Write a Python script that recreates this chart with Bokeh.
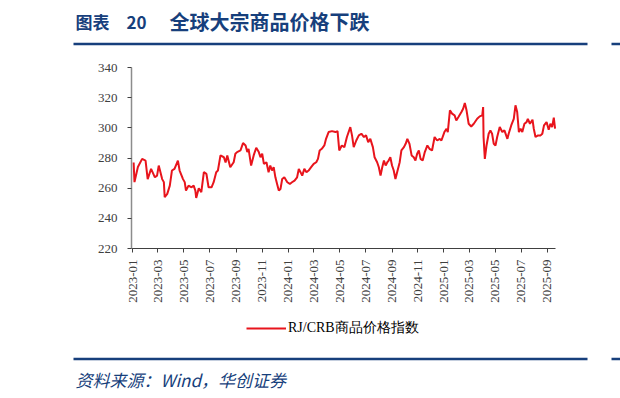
import pandas as pd
from math import pi
from bokeh.plotting import figure
from bokeh.models import Range1d, FixedTicker, Legend, LegendItem, ColumnDataSource, DatetimeTickFormatter
from bokeh.core.properties import value
from bokeh.embed import file_html
from bokeh.resources import INLINE

TITLE_NO = "图表　20"
TITLE = "全球大宗商品价格下跌"
SOURCE = "资料来源：Wind，华创证券"
SERIES = "RJ/CRB商品价格指数"

dates = [
    "2023-01-03", "2023-01-05", "2023-01-13", "2023-01-23", "2023-01-31", "2023-02-05", "2023-02-13",
    "2023-02-22", "2023-02-27", "2023-03-03", "2023-03-11", "2023-03-15", "2023-03-17", "2023-03-23",
    "2023-03-29", "2023-04-03", "2023-04-09", "2023-04-17", "2023-04-21", "2023-04-29", "2023-05-03",
    "2023-05-06", "2023-05-12", "2023-05-19", "2023-05-24", "2023-05-28", "2023-05-30", "2023-06-05",
    "2023-06-11", "2023-06-17", "2023-06-23", "2023-06-28", "2023-07-05", "2023-07-10", "2023-07-16",
    "2023-07-20", "2023-07-26", "2023-08-03", "2023-08-07", "2023-08-11", "2023-08-18", "2023-08-26",
    "2023-08-30", "2023-09-03", "2023-09-11", "2023-09-17", "2023-09-23", "2023-09-27", "2023-09-30",
    "2023-10-06", "2023-10-12", "2023-10-18", "2023-10-24", "2023-10-28", "2023-11-01", "2023-11-05",
    "2023-11-11", "2023-11-16", "2023-11-20", "2023-11-24", "2023-11-28", "2023-12-02", "2023-12-06",
    "2023-12-10", "2023-12-14", "2023-12-18", "2023-12-23", "2023-12-30",
    "2024-01-05", "2024-01-10", "2024-01-16", "2024-01-22", "2024-01-26", "2024-01-30", "2024-02-03",
    "2024-02-08", "2024-02-13", "2024-02-18", "2024-02-24", "2024-03-01", "2024-03-07", "2024-03-11",
    "2024-03-15", "2024-03-20", "2024-03-26", "2024-03-30", "2024-04-05", "2024-04-13", "2024-04-21",
    "2024-04-26", "2024-04-30", "2024-05-06", "2024-05-12", "2024-05-18", "2024-05-26", "2024-05-30",
    "2024-06-03", "2024-06-09", "2024-06-15", "2024-06-21", "2024-06-27", "2024-07-02", "2024-07-07",
    "2024-07-12", "2024-07-18", "2024-07-22", "2024-07-28", "2024-08-01", "2024-08-05", "2024-08-09",
    "2024-08-13", "2024-08-17", "2024-08-21", "2024-08-24", "2024-08-28", "2024-09-01", "2024-09-05",
    "2024-09-09", "2024-09-13", "2024-09-19", "2024-09-23", "2024-09-29", "2024-10-03", "2024-10-07",
    "2024-10-12", "2024-10-17", "2024-10-22", "2024-10-26", "2024-10-30", "2024-11-03", "2024-11-07",
    "2024-11-12", "2024-11-17", "2024-11-23", "2024-11-28", "2024-12-04", "2024-12-10", "2024-12-16",
    "2024-12-22", "2024-12-26",
    "2025-01-02", "2025-01-07", "2025-01-10", "2025-01-15", "2025-01-20", "2025-01-26", "2025-01-30",
    "2025-02-04", "2025-02-11", "2025-02-15", "2025-02-19", "2025-02-23", "2025-02-28", "2025-03-06",
    "2025-03-12", "2025-03-20", "2025-03-26", "2025-04-01", "2025-04-03", "2025-04-04", "2025-04-07",
    "2025-04-11", "2025-04-16", "2025-04-20", "2025-04-24", "2025-04-28", "2025-05-02", "2025-05-06",
    "2025-05-12", "2025-05-18", "2025-05-23", "2025-05-30", "2025-06-02", "2025-06-08", "2025-06-14",
    "2025-06-18", "2025-06-22", "2025-06-26", "2025-06-30", "2025-07-04", "2025-07-09", "2025-07-14",
    "2025-07-17", "2025-07-22", "2025-07-28", "2025-07-31", "2025-08-04", "2025-08-10", "2025-08-16",
    "2025-08-20", "2025-08-24", "2025-08-30", "2025-09-04", "2025-09-08", "2025-09-12", "2025-09-16",
    "2025-09-19",
]

rj_crb = [
    277.0, 264.0, 274.0, 279.4, 278.3, 266.0, 272.8,
    267.2, 268.3, 275.0, 266.0, 264.0, 254.0, 256.2,
    261.7, 271.7, 272.8, 278.3, 271.7, 266.0, 264.0,
    258.4, 261.7, 260.6, 261.7, 258.4, 253.5, 260.0,
    257.3, 270.6, 269.5, 260.6, 260.6, 264.0, 270.6,
    271.7, 281.7, 280.5, 277.0, 281.7, 273.9, 277.2,
    282.8, 283.9, 285.0, 289.9, 288.3, 283.9, 286.1,
    275.0, 281.7, 286.8, 283.9, 280.5, 282.8, 276.1,
    277.2, 270.6, 275.0, 271.7, 273.9, 267.2, 262.8,
    258.4, 259.5, 266.1, 267.2, 263.9,
    262.8, 263.9, 265.0, 267.2, 272.8, 270.6, 268.3,
    272.8, 270.6, 271.7, 273.9, 276.1, 277.2, 279.4,
    285.0, 286.1, 288.3, 292.7, 297.2, 297.8, 297.2,
    297.8, 285.0, 288.3, 287.2, 293.9, 300.5, 295.0,
    287.2, 291.6, 295.0, 296.1, 293.9, 295.0, 290.5,
    292.7, 287.2, 280.5, 277.2, 273.9, 268.3, 273.9,
    278.3, 275.0, 277.2, 278.3, 280.5, 275.0, 271.7,
    266.1, 270.6, 277.2, 285.0, 287.2, 289.4, 292.7,
    289.4, 281.7, 280.5, 278.3, 282.8, 285.0, 279.4,
    278.3, 283.9, 288.3, 286.1, 285.0, 293.9, 291.6,
    292.7, 291.6,
    297.2, 299.4, 297.2, 311.6, 309.4, 308.3, 304.9,
    307.2, 310.5, 312.7, 316.5, 311.6, 302.7, 300.9,
    302.7, 306.0, 307.6, 308.3, 313.8, 293.9, 279.4,
    288.3, 296.1, 298.3, 296.1, 289.4, 288.3, 293.9,
    300.5, 297.2, 298.3, 292.7, 296.1, 301.6, 306.0,
    314.9, 310.5, 297.2, 299.4, 297.2, 302.7, 303.8,
    306.0, 302.7, 305.4, 299.4, 293.9, 295.0, 295.0,
    296.1, 301.6, 303.8, 298.7, 302.7, 300.5, 306.7,
    299.4,
]

x_tick_labels = ["2023-01", "2023-03", "2023-05", "2023-07", "2023-09", "2023-11",
                 "2024-01", "2024-03", "2024-05", "2024-07", "2024-09", "2024-11",
                 "2025-01", "2025-03", "2025-05", "2025-07", "2025-09"]
y_ticks = [220, 240, 260, 280, 300, 320, 340]
x_start, x_end = "2022-12-29", "2025-09-20"
y_min, y_max = 220, 340

NAVY = "#173F7C"
RED = "#E8141C"
W, H = 620, 398
# plot-area box in canvas pixels (from left / from top)
FL, FR, FT, FB = 131, 555, 67, 248

ms0 = pd.Timestamp(x_start).value / 1e6
ms1 = pd.Timestamp(x_end).value / 1e6
mpp = (ms1 - ms0) / (FR - FL)
upp = (y_max - y_min) / (FB - FT)

p = figure(width=W, height=H, x_axis_type="datetime",
           x_range=Range1d(ms0 - FL * mpp, ms1 + (W - FR) * mpp),
           y_range=Range1d(y_min - (H - FB) * upp, y_max + FT * upp),
           output_backend="svg", toolbar_location=None, min_border=0,
           outline_line_color=None)
p.title.visible = False
p.grid.visible = False
p.extra_x_ranges = {"px": Range1d(0, W)}
p.extra_y_ranges = {"px": Range1d(0, H)}

df = pd.DataFrame({"date": pd.to_datetime(dates), "v": rj_crb})
src = ColumnDataSource(df)
r = p.line("date", "v", source=src, line_color=RED, line_width=2)

# x axis
tick_ms = [pd.Timestamp(t + "-01").value / 1e6 for t in x_tick_labels]
xa = p.xaxis[0]
xa.fixed_location = y_min
xa.bounds = (ms0, ms1)
xa.ticker = FixedTicker(ticks=tick_ms)
fmt = "%Y-%m"
xa.formatter = DatetimeTickFormatter(years=fmt, months=fmt, days=fmt, hours=fmt, minutes=fmt,
                                     seconds=fmt, milliseconds=fmt, microseconds=fmt,
                                     hourmin=fmt, minsec=fmt)
xa.major_label_orientation = pi / 2
xa.major_label_text_font = "Liberation Serif"
xa.major_label_text_font_size = "13px"
xa.major_label_text_color = "#404040"
xa.major_label_standoff = 7
xa.major_tick_out = 4
xa.major_tick_in = 0
xa.minor_tick_line_color = None
xa.axis_line_color = "#404040"
xa.axis_line_width = 1.2
xa.major_tick_line_color = "#404040"

# y axis
ya = p.yaxis[0]
ya.fixed_location = ms0
ya.bounds = (y_min, y_max)
ya.ticker = FixedTicker(ticks=y_ticks)
ya.major_label_text_font = "Liberation Serif"
ya.major_label_text_font_size = "13px"
ya.major_label_text_color = "#404040"
ya.major_label_standoff = 10
ya.major_tick_out = 4
ya.major_tick_in = 0
ya.minor_tick_line_color = None
ya.axis_line_color = "#8c8c8c"
ya.axis_line_width = 1.5
ya.major_tick_line_color = "#404040"

# header
p.text(x=[75], y=[H - 21], text=[TITLE_NO], x_range_name="px", y_range_name="px",
       text_font=value("Noto Sans CJK SC"), text_font_style="bold",
       text_font_size="17px", text_color=NAVY, text_baseline="middle")
p.text(x=[169], y=[H - 21], text=[TITLE], x_range_name="px", y_range_name="px",
       text_font=value("Noto Sans CJK SC"), text_font_style="bold",
       text_font_size="20px", text_color=NAVY, text_baseline="middle")
p.segment(x0=[73, 611], y0=[H - 43.5, H - 43.5], x1=[587, 620], y1=[H - 43.5, H - 43.5],
          x_range_name="px", y_range_name="px", line_color=NAVY, line_width=2.5)

# footer
p.segment(x0=[73, 611], y0=[H - 358.5, H - 358.5], x1=[587, 620], y1=[H - 358.5, H - 358.5],
          x_range_name="px", y_range_name="px", line_color=NAVY, line_width=2.5)
p.text(x=[75], y=[H - 379], text=[SOURCE], x_range_name="px", y_range_name="px",
       text_font=value("Noto Sans CJK SC"), text_font_style="italic",
       text_font_size="17px", text_color=NAVY, text_baseline="middle")

legend = Legend(items=[LegendItem(label=SERIES, renderers=[r])], location=(246, H - 329 - 9),
                orientation="horizontal", glyph_width=40, label_standoff=2,
                label_text_font="Liberation Serif", label_text_font_size="14px",
                label_text_color="#000000", border_line_color=None, background_fill_alpha=0,
                margin=0, padding=0)
p.add_layout(legend, "center")

open("out.html", "w").write(file_html(p, INLINE))
